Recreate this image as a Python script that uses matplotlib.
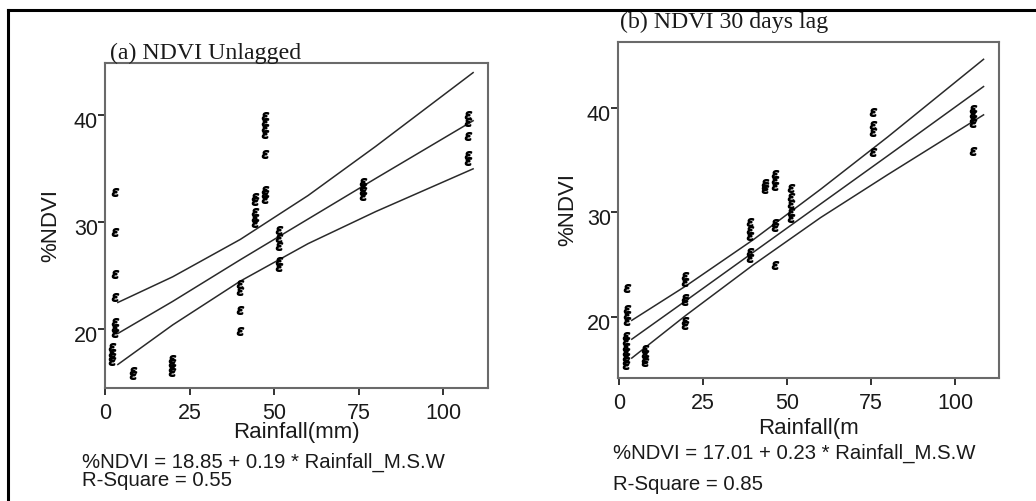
import matplotlib
matplotlib.use("Agg")
import matplotlib.pyplot as plt
from matplotlib.lines import Line2D
from matplotlib.transforms import ScaledTranslation

W, H = 1036, 501

# ---------------- data: panel (a) NDVI unlagged ----------------
a_rain = ([3.0] * 7 + [2.0] * 4 + [8.2] * 2 + [19.9] * 4 + [39.9] * 4 +
          [44.3] * 5 + [47.3] * 8 + [51.5] * 5 + [76.4] * 4 + [107.4] * 5)
a_ndvi = [32.8, 29.1, 25.2, 23.0, 20.7, 20.1, 19.6,
          18.3, 17.8, 17.4, 17.0,
          16.1, 15.7,
          17.2, 16.8, 16.4, 16.0,
          24.2, 23.6, 21.8, 19.8,
          32.4, 32.0, 31.0, 30.4, 29.9,
          39.9, 39.4, 38.8, 38.3, 36.4, 33.0, 32.6, 32.2,
          29.3, 28.5, 27.8, 26.4, 25.8,
          33.8, 33.3, 32.9, 32.5,
          40.0, 39.4, 38.1, 36.3, 35.7]
a_line_x = [3.8, 20, 40, 60, 80, 108.8]
a_fit = [19.6, 22.6, 26.5, 30.3, 34.1, 39.5]
a_upper = [22.5, 24.9, 28.4, 32.5, 37.1, 44.0]
a_lower = [16.7, 20.4, 24.5, 28.0, 31.0, 35.0]

# ---------------- data: panel (b) NDVI 30 days lag ----------------
b_rain = ([2.5] * 4 + [2.0] * 7 + [7.6] * 4 + [19.5] * 6 + [38.9] * 5 +
          [43.6] * 3 + [46.5] * 6 + [51.2] * 5 + [75.7] * 4 + [105.4] * 5)
b_ndvi = [22.8, 20.8, 20.2, 19.6,
          18.2, 17.7, 17.2, 16.7, 16.2, 15.8, 15.4,
          17.0, 16.5, 16.0, 15.7,
          23.9, 23.4, 21.8, 21.5, 19.6, 19.3,
          29.1, 28.3, 27.7, 26.25, 25.6,
          32.8, 32.5, 32.2,
          33.7, 33.1, 32.5, 28.95, 28.6, 25.0,
          32.3, 31.5, 30.8, 30.0, 29.5,
          39.6, 38.3, 37.7, 35.8,
          39.9, 39.4, 38.9, 38.5, 35.9]
b_line_x = [3.8, 20, 40, 60, 80, 108.5]
b_fit = [17.9, 21.6, 26.2, 30.8, 35.4, 42.0]
b_upper = [19.7, 23.0, 27.4, 32.2, 37.2, 44.6]
b_lower = [16.1, 20.2, 25.0, 29.5, 33.6, 39.3]

x_ticks = [0, 25, 50, 75, 100]
y_ticks = [20, 30, 40]

plt.rcParams["font.family"] = ["Liberation Sans", "DejaVu Sans"]

fig = plt.figure(figsize=(W / 100, H / 100), dpi=100)


def px_axes(l, t, r, b):
    return [l / W, 1 - b / H, (r - l) / W, (b - t) / H]


def fx(x):
    return x / W


def fy(y):
    return 1 - y / H


def panel(rect, xlim, ylim, rain, ndvi, lx, fit, up, lo, xlabel, ylpad, xlpad):
    ax = fig.add_axes(rect)
    ax.set_xlim(*xlim)
    ax.set_ylim(*ylim)
    for ys in (fit, up, lo):
        ax.plot(lx, ys, color="#2a2a2a", lw=1.1, zorder=2)
    ax.plot(rain, ndvi, linestyle="none", marker="$ε$", markersize=5.5,
            color="black", zorder=3)
    for s in ax.spines.values():
        s.set_color("#6a6a6a")
        s.set_linewidth(1.5)
    ax.set_xticks(x_ticks)
    ax.set_yticks(y_ticks)
    ax.tick_params(axis="both", direction="out", length=5, width=1.3,
                   color="#222222", labelsize=15.5, labelcolor="#1a1a1a")
    ax.tick_params(axis="y", pad=0)
    ax.tick_params(axis="x", pad=6)
    off = ScaledTranslation(0, -5 / 100, fig.dpi_scale_trans)
    for lab in ax.get_yticklabels():
        lab.set_transform(lab.get_transform() + off)
    ax.set_ylabel("%NDVI", fontsize=16, color="#1a1a1a", labelpad=ylpad)
    ax.set_xlabel(xlabel, fontsize=16, color="#1a1a1a", labelpad=xlpad)
    return ax


ax1 = panel(px_axes(105, 63, 488, 388), (0, 113.2), (14.5, 44.9),
            a_rain, a_ndvi, a_line_x, a_fit, a_upper, a_lower,
            "Rainfall(mm)", 9, -1.5)
ax2 = panel(px_axes(618, 42, 999, 378), (-0.3, 113.1), (14.2, 46.25),
            b_rain, b_ndvi, b_line_x, b_fit, b_upper, b_lower,
            "Rainfall(m", 6, 3)

# titles
fig.text(fx(110), fy(53), "(a) NDVI Unlagged", family=["Liberation Serif"],
         fontsize=17.2, va="center", ha="left", color="#1a1a1a")
fig.text(fx(620), fy(22), "(b) NDVI 30 days lag", family=["Liberation Serif"],
         fontsize=17.2, va="center", ha="left", color="#1a1a1a")

# equations
fig.text(fx(82), fy(462), "%NDVI = 18.85 + 0.19 * Rainfall_M.S.W",
         fontsize=14.7, va="center", ha="left", color="#1a1a1a")
fig.text(fx(82), fy(481), "R-Square = 0.55",
         fontsize=14.7, va="center", ha="left", color="#1a1a1a")
fig.text(fx(613), fy(453), "%NDVI = 17.01 + 0.23 * Rainfall_M.S.W",
         fontsize=14.7, va="center", ha="left", color="#1a1a1a")
fig.text(fx(613), fy(484), "R-Square = 0.85",
         fontsize=14.7, va="center", ha="left", color="#1a1a1a")

# outer frame (top and left edges)
fig.add_artist(Line2D([fx(8), fx(1036)], [fy(10), fy(10)], color="black",
                      lw=2.2, transform=fig.transFigure))
fig.add_artist(Line2D([fx(8), fx(8)], [fy(10), fy(501)], color="black",
                      lw=2.2, transform=fig.transFigure))

fig.savefig("out.png", dpi=100)
